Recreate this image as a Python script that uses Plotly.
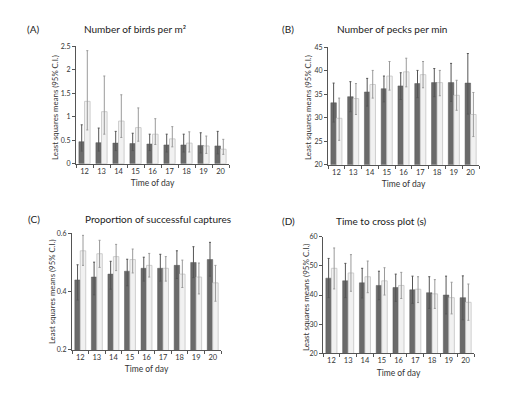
import plotly.graph_objects as go

hours = ["12", "13", "14", "15", "16", "17", "18", "19", "20"]

# Panel A: Number of birds per m2
a_dark = [0.47, 0.45, 0.44, 0.43, 0.42, 0.40, 0.40, 0.39, 0.38]
a_dark_hi = [0.83, 0.76, 0.69, 0.65, 0.63, 0.63, 0.63, 0.66, 0.69]
a_dark_lo = [0.27, 0.27, 0.28, 0.28, 0.28, 0.25, 0.25, 0.23, 0.21]
a_light = [1.33, 1.11, 0.91, 0.77, 0.63, 0.53, 0.44, 0.38, 0.31]
a_light_hi = [2.41, 1.87, 1.47, 1.19, 0.96, 0.79, 0.68, 0.59, 0.52]
a_light_lo = [0.72, 0.63, 0.56, 0.48, 0.41, 0.36, 0.25, 0.22, 0.20]

# Panel B: Number of pecks per min
b_dark = [33.2, 34.5, 35.5, 36.2, 36.8, 37.3, 37.5, 37.5, 37.4]
b_dark_hi = [37.4, 37.7, 38.4, 38.9, 39.6, 40.1, 40.5, 41.6, 43.7]
b_dark_lo = [29.1, 31.3, 32.5, 33.4, 33.9, 34.3, 34.5, 33.5, 30.8]
b_light = [29.9, 34.1, 37.1, 38.9, 39.8, 39.2, 37.5, 34.8, 30.7]
b_light_hi = [34.2, 37.3, 40.1, 42.0, 42.7, 42.0, 40.1, 38.0, 35.4]
b_light_lo = [25.2, 30.7, 34.2, 35.9, 36.6, 36.4, 34.7, 31.6, 26.0]

# Panel C: Proportion of successful captures
c_dark = [0.44, 0.45, 0.46, 0.47, 0.48, 0.48, 0.49, 0.50, 0.51]
c_dark_hi = [0.492, 0.501, 0.504, 0.511, 0.518, 0.528, 0.540, 0.554, 0.569]
c_dark_lo = [0.371, 0.389, 0.408, 0.420, 0.436, 0.436, 0.445, 0.448, 0.453]
c_light = [0.54, 0.53, 0.52, 0.51, 0.49, 0.48, 0.46, 0.45, 0.43]
c_light_hi = [0.593, 0.576, 0.562, 0.546, 0.531, 0.520, 0.508, 0.498, 0.490]
c_light_lo = [0.490, 0.483, 0.472, 0.464, 0.450, 0.436, 0.414, 0.392, 0.367]

# Panel D: Time to cross plot (s)
d_dark = [45.8, 44.9, 44.2, 43.3, 42.6, 41.8, 40.8, 40.0, 39.1]
d_dark_hi = [52.6, 50.9, 49.2, 48.2, 47.2, 46.5, 46.3, 46.5, 46.6]
d_dark_lo = [39.1, 39.1, 39.0, 38.4, 37.8, 37.1, 35.4, 33.5, 31.5]
d_light = [49.2, 47.6, 46.3, 44.9, 43.3, 42.0, 40.4, 39.1, 37.5]
d_light_hi = [56.2, 53.9, 51.7, 49.4, 47.8, 46.3, 45.3, 44.4, 43.8]
d_light_lo = [42.1, 41.3, 40.8, 40.0, 38.8, 37.4, 35.4, 33.5, 31.3]

W, H = 530, 397

panels = [
    dict(name="A", title="Number of birds per m²",
         dark=(a_dark, a_dark_lo, a_dark_hi), light=(a_light, a_light_lo, a_light_hi),
         rng=[0, 2.5], tv=[0, 0.5, 1, 1.5, 2, 2.5], tt=["0", "0.5", "1", "1.5", "2", "2.5"],
         xd=(76, 229), yd=(162, 42.3), lab=(33, 24), tit=(135, 24), ytx=55, ytc=105, yts=7.8),
    dict(name="B", title="Number of pecks per min",
         dark=(b_dark, b_dark_lo, b_dark_hi), light=(b_light, b_light_lo, b_light_hi),
         rng=[20, 45], tv=[20, 25, 30, 35, 40, 45], tt=["20", "25", "30", "35", "40", "45"],
         xd=(328, 479), yd=(163, 43.3), lab=(288, 24), tit=(392, 24), ytx=308, ytc=105, yts=7.8),
    dict(name="C", title="Proportion of successful captures",
         dark=(c_dark, c_dark_lo, c_dark_hi), light=(c_light, c_light_lo, c_light_hi),
         rng=[0.2, 0.6], tv=[0.2, 0.4, 0.6], tt=["0.2", "0.4", "0.6"],
         xd=(72, 221), yd=(352, 233), lab=(34, 218), tit=(158, 218), ytx=52, ytc=293, yts=7.8),
    dict(name="D", title="Time to cross plot (s)",
         dark=(d_dark, d_dark_lo, d_dark_hi), light=(d_light, d_light_lo, d_light_hi),
         rng=[20, 60], tv=[20, 30, 40, 50, 60], tt=["20", "30", "40", "50", "60"],
         xd=(323, 474), yd=(355.3, 236.7), lab=(288, 220), tit=(381, 220), ytx=306, ytc=299, yts=8),
]

FONT = "Lato, 'Open Sans', sans-serif"
fig = go.Figure()
layout = dict(
    width=W, height=H, margin=dict(l=0, r=0, t=0, b=0),
    paper_bgcolor="white", plot_bgcolor="white", showlegend=False,
    barmode="group", bargap=0.34, bargroupgap=0.0,
    font=dict(family=FONT, color="#333333"),
)
annotations = []

for i, p in enumerate(panels):
    sfx = "" if i == 0 else str(i + 1)
    xa, ya = "x" + sfx, "y" + sfx
    m, lo, hi = p["dark"]
    fig.add_trace(go.Bar(
        x=hours, y=m, xaxis=xa, yaxis=ya,
        marker=dict(color="#6a6a6a", line=dict(color="#5a5a5a", width=0.5)),
        error_y=dict(type="data", symmetric=False,
                     array=[h - v for h, v in zip(hi, m)],
                     arrayminus=[v - l for v, l in zip(m, lo)],
                     color="#555555", thickness=1, width=1),
    ))
    m, lo, hi = p["light"]
    fig.add_trace(go.Bar(
        x=hours, y=m, xaxis=xa, yaxis=ya,
        marker=dict(color="#f1f1f1", line=dict(color="#c4c4c4", width=0.8)),
        error_y=dict(type="data", symmetric=False,
                     array=[h - v for h, v in zip(hi, m)],
                     arrayminus=[v - l for v, l in zip(m, lo)],
                     color="#9a9a9a", thickness=1, width=1),
    ))
    layout["xaxis" + sfx] = dict(
        domain=[p["xd"][0] / W, p["xd"][1] / W], anchor=ya, type="category", tickson="boundaries",
        ticks="outside", ticklen=3, tickcolor="#555555", tickwidth=1,
        showline=True, linecolor="#555555", linewidth=1, showgrid=False,
        tickangle=0, tickfont=dict(size=7.5, color="#333333"),
        title=dict(text="Time of day", font=dict(size=8.5, color="#333333"), standoff=5),
    )
    layout["yaxis" + sfx] = dict(
        domain=[1 - p["yd"][0] / H, 1 - p["yd"][1] / H], anchor=xa, range=p["rng"], tickmode="array",
        tickvals=p["tv"], ticktext=p["tt"],
        ticks="outside", ticklen=3, tickcolor="#555555",
        showline=True, linecolor="#555555", linewidth=1, showgrid=False, zeroline=False,
        tickfont=dict(size=7, color="#333333"),
    )
    annotations.append(dict(
        text="Least squares means (95% C.I.)", textangle=-90,
        x=p["ytx"] / W, y=1 - p["ytc"] / H, xref="paper", yref="paper",
        xanchor="center", yanchor="middle",
        showarrow=False, font=dict(size=p["yts"], color="#333333"),
    ))
    annotations.append(dict(
        text="(" + p["name"] + ")", x=p["lab"][0] / W, y=1 - p["lab"][1] / H,
        xref="paper", yref="paper", xanchor="center", yanchor="middle",
        showarrow=False, font=dict(size=10, color="#222222"),
    ))
    annotations.append(dict(
        text=p["title"], x=p["tit"][0] / W, y=1 - p["tit"][1] / H,
        xref="paper", yref="paper", xanchor="center", yanchor="middle",
        showarrow=False, font=dict(size=10, color="#222222"),
    ))

layout["annotations"] = annotations
fig.update_layout(**layout)
fig.write_html("out.html", config={"displayModeBar": False},
               post_script="document.body.style.margin='0';document.body.style.padding='0';")
